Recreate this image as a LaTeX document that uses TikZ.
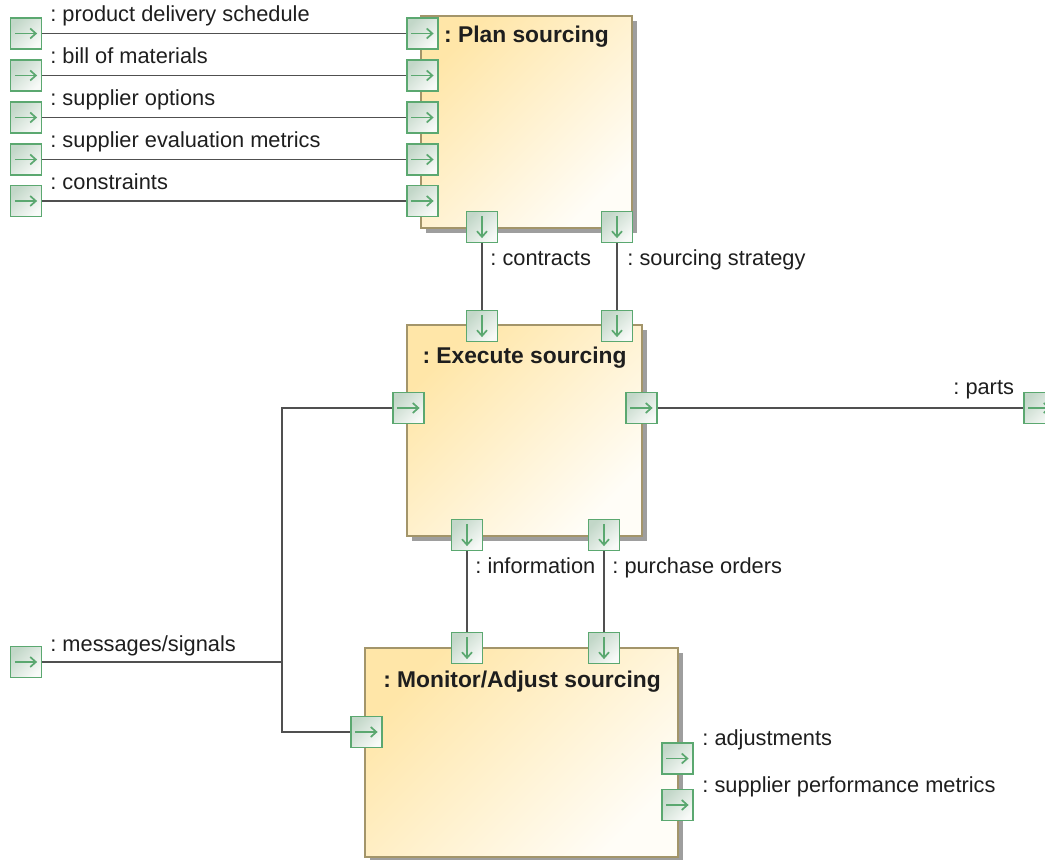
\documentclass[tikz,border=0pt]{standalone}
\usepackage{fontspec}
\setmainfont{Liberation Sans}
\usetikzlibrary{arrows.meta,positioning,shadows}
\definecolor{boxTop}{HTML}{FFE6A8}
\definecolor{boxBot}{HTML}{FFFDF7}
\definecolor{boxLine}{HTML}{A3956A}
\definecolor{portTop}{HTML}{C2D7C8}
\definecolor{portBot}{HTML}{F8FAF8}
\definecolor{portLine}{HTML}{5BA870}
\definecolor{wire}{HTML}{505050}
\definecolor{ink}{HTML}{1E1E1E}
\frenchspacing

\begin{document}
\begin{tikzpicture}[x=0.5pt,y=-0.5pt,
  action/.style={rectangle,draw=boxLine,line width=0.9pt,top color=boxTop,bottom color=boxBot,shading angle=45,
    drop shadow={shadow xshift=2.5pt,shadow yshift=-2.5pt,fill=black!38,opacity=1}},
  port/.style={rectangle,draw=portLine,line width=0.8pt,top color=portTop,bottom color=portBot,shading angle=45,
    minimum size=15.5pt,inner sep=0pt},
  portR/.style={port,path picture={\draw[portLine,line width=0.85pt,-{Straight Barb[length=2.8pt,width=5pt]}]
    ([xshift=2.2pt]path picture bounding box.west) -- ([xshift=-2.2pt]path picture bounding box.east);}},
  portD/.style={port,path picture={\draw[portLine,line width=0.85pt,-{Straight Barb[length=2.8pt,width=5pt]}]
    ([yshift=-2.2pt]path picture bounding box.north) -- ([yshift=2.2pt]path picture bounding box.south);}},
  title/.style={anchor=base,inner sep=0pt,text=ink,font=\fontsize{11.4}{13}\selectfont\bfseries},
  lbl/.style={anchor=base west,inner sep=0pt,text=ink,font=\fontsize{10.9}{12.8}\selectfont},
  wire/.style={draw=wire,line width=0.9pt}
]
  \useasboundingbox (0,0) rectangle (1045,860);
  \clip (0,0) rectangle (1045,860);

  \node[action,minimum width=105.5pt,minimum height=106pt] (plan) at (526.5,122) {};
  \node[action,minimum width=117.5pt,minimum height=105.5pt] (exec) at (524.5,430.5) {};
  \node[action,minimum width=156.5pt,minimum height=104.5pt] (mon) at (521.5,752.5) {};
  \node[title] (plantitle) at (526.5,42.7) {: Plan sourcing};
  \node[title] (exectitle) at (524.5,364) {: Execute sourcing};
  \node[title] (montitle) at (522,687.5) {: Monitor/Adjust sourcing};

  \foreach \y/\t [count=\i] in {33.5/product delivery schedule,75.5/bill of materials,117.5/supplier options,
      159.5/supplier evaluation metrics,201/constraints}{
    \node[portR] (src\i) at (26,\y) {};
    \node[portR] (pin\i) at (422.5,\y) {};
    \node[lbl] (srclbl\i) at (50,\y-11.7) {: \t};
    \draw[wire] (src\i) -- (pin\i);
  }

  \node[portD] (pout1) at (482,227) {};
  \node[portD] (pout2) at (617,227) {};
  \node[portD] (ein1) at (482,326) {};
  \node[portD] (ein2) at (617,326) {};
  \node[portR] (eleft) at (408.5,408) {};
  \node[portR] (eright) at (641.5,408) {};
  \node[portR] (parts) at (1039.5,408) {};
  \node[portD] (eout1) at (467,535) {};
  \node[portD] (eout2) at (604,535) {};
  \node[portD] (min1) at (467,648) {};
  \node[portD] (min2) at (604,648) {};
  \node[portR] (mleft) at (366.5,732) {};
  \node[portR] (mout1) at (677.5,758.5) {};
  \node[portR] (mout2) at (677.5,805) {};
  \node[portR] (msg) at (26,662) {};
  \coordinate (jn) at (282,662);

  \draw[wire] (pout1) -- (ein1);
  \draw[wire] (pout2) -- (ein2);
  \draw[wire] (eout1) -- (min1);
  \draw[wire] (eout2) -- (min2);
  \draw[wire] (eright) -- (parts);
  \draw[wire] (msg) -- (jn);
  \draw[wire] (eleft) -| (jn) |- (mleft);

  \node[lbl] (contractslbl) at (490,266) {: contracts};
  \node[lbl] (strategylbl) at (627,266) {: sourcing strategy};
  \node[lbl] (infolbl) at (475,574) {: information};
  \node[lbl] (orderslbl) at (612,574) {: purchase orders};
  \node[lbl] (partslbl) at (953,395) {: parts};
  \node[lbl] (msglbl) at (50,652) {: messages/signals};
  \node[lbl] (adjlbl) at (702,746) {: adjustments};
  \node[lbl] (perflbl) at (702,793) {: supplier performance metrics};
\end{tikzpicture}
\end{document}
